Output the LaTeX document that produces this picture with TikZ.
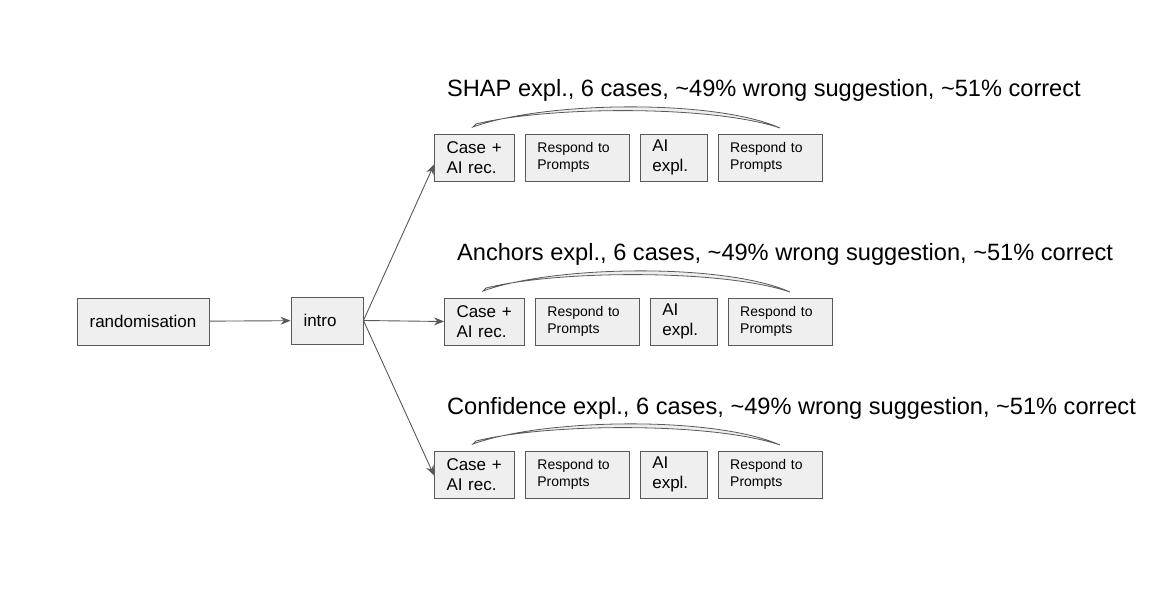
\documentclass[tikz,border=0pt]{standalone}
\usepackage{fontspec}
\setmainfont{Liberation Sans}
\usetikzlibrary{positioning, arrows.meta}
\definecolor{boxfill}{HTML}{EFEFEF}
\definecolor{edge}{HTML}{595959}

\begin{document}
\begin{tikzpicture}[x=1pt, y=-1pt,
  stagebox/.style={draw=edge, line width=0.9pt, fill=boxfill, minimum height=47pt,
                   inner xsep=12pt, inner ysep=0pt, align=left},
  casebox/.style={stagebox, text width=56pt, font=\fontsize{17}{20}\selectfont},
  promptbox/.style={stagebox, text width=80pt, font=\fontsize{14}{17}\selectfont},
  explbox/.style={stagebox, text width=43pt, font=\fontsize{17}{20}\selectfont},
  headline/.style={anchor=base west, inner sep=0pt, font=\fontsize{23.6}{28}\selectfont},
  link/.style={draw=edge, line width=0.9pt, -{Stealth[length=10pt, width=8pt]}},
  loopband/.style={draw=edge, line width=0.8pt, fill=boxfill}
]
  \useasboundingbox (0,0) rectangle (1164,593);

  \node[stagebox, minimum width=132pt, align=center, font=\fontsize{17}{20}\selectfont]
    (rand) at (143,321.5) {randomisation};
  \node[stagebox, minimum width=72pt, text width=47pt, font=\fontsize{17}{20}\selectfont]
    (intro) at (327,320.5) {intro};
  \draw[link] (rand) -- (intro);

  % one row per explanation type
  \foreach \r/\dx/\dy/\kind in {1/0/0/SHAP, 2/10/164/Anchors, 3/0/317/Confidence}{
    \begin{scope}[shift={(\dx,\dy)}]
      \node[casebox] (c\r) at (474.5,157.5) {Case +\\AI rec.};
      \node[promptbox, right=10pt of c\r] (p\r) {Respond to\\Prompts};
      \node[explbox, right=10pt of p\r] (e\r) {AI\\expl.};
      \node[promptbox, right=10pt of e\r] (q\r) {Respond to\\Prompts};
      \node[headline] (t\r) at (447,97)
        {\kind\ expl., 6 cases, \textasciitilde 49\% wrong suggestion, \textasciitilde 51\% correct};
      \draw[loopband] (473,127) .. controls (545,101) and (715,99) .. (780,128)
        .. controls (712,105) and (548,106) .. (476,124) -- cycle;
    \end{scope}
  }

  \draw[link] (intro.east) -- ([yshift=-7pt]c1.west);
  \draw[link] (intro.east) -- (c2.west);
  \draw[link] (intro.east) -- ([yshift=-1pt]c3.west);

\end{tikzpicture}
\end{document}
